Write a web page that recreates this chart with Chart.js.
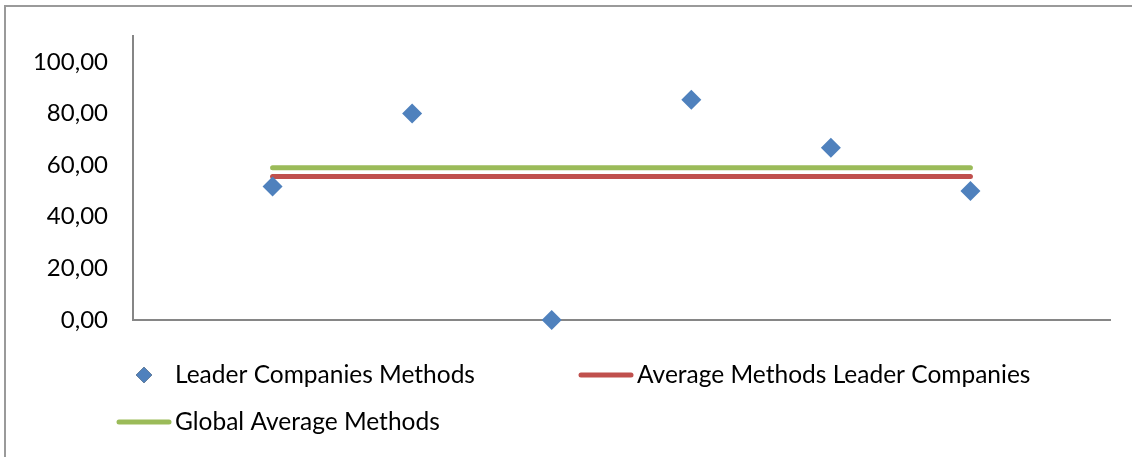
<!DOCTYPE html>
<html>
<head>
<meta charset="utf-8">
<script src="https://cdn.jsdelivr.net/npm/chart.js@4/dist/chart.umd.min.js"></script>
<style>
  html, body { margin: 0; padding: 0; background: #fff; }
  #wrap { width: 1132px; height: 457px; }
</style>
</head>
<body>
<div id="wrap"><canvas id="c" width="1132" height="457"></canvas></div>
<script>
// Position of each company along the horizontal axis
const companyPositions = [1, 2, 3, 4, 5, 6];
// Share of methods used by each leader company
const leaderMethods = [51.7, 80.0, 0.0, 85.3, 66.7, 50.0];
// Average over the leader companies
const leaderAverage = [55.6, 55.6, 55.6, 55.6, 55.6, 55.6];
// Average over all companies
const globalAverage = [59.0, 59.0, 59.0, 59.0, 59.0, 59.0];
// Labelled values on the vertical axis
const yTickValues = [0, 20, 40, 60, 80, 100];

const seriesNames = ['Leader Companies Methods', 'Average Methods Leader Companies', 'Global Average Methods'];
const BLUE = '#4F81BD', RED = '#C0504D', GREEN = '#9BBB59', AXIS = '#868686';
const FONT = 'Lato, "Open Sans", sans-serif';

const pts = (ys) => companyPositions.map((x, i) => ({ x, y: ys[i] }));

// Frame, top and left edges, as in the original worksheet chart
const framePlugin = {
  id: 'frame',
  beforeDraw(chart) {
    const ctx = chart.ctx;
    ctx.save();
    ctx.fillStyle = '#fff';
    ctx.fillRect(0, 0, chart.width, chart.height);
    ctx.strokeStyle = '#9a9a9a';
    ctx.lineWidth = 2;
    ctx.beginPath();
    ctx.moveTo(5, chart.height);
    ctx.lineTo(5, 6);
    ctx.lineTo(chart.width, 6);
    ctx.stroke();
    ctx.restore();
  }
};

// Legend laid out in two rows below the plot
const legendPlugin = {
  id: 'sheetLegend',
  afterDraw(chart) {
    const ctx = chart.ctx;
    const ds = chart.data.datasets;
    const items = [
      { i: 0, x: 144, y: 375, text: 175 },
      { i: 1, x: 606, y: 375, text: 637 },
      { i: 2, x: 144, y: 422, text: 175 }
    ];
    ctx.save();
    ctx.font = '24.5px ' + FONT;
    ctx.textBaseline = 'middle';
    ctx.fillStyle = '#000';
    items.forEach(it => {
      const d = ds[it.i];
      if (d.showLine) {
        ctx.strokeStyle = d.borderColor;
        ctx.lineWidth = 5;
        ctx.lineCap = 'round';
        ctx.beginPath();
        ctx.moveTo(it.x - 25, it.y);
        ctx.lineTo(it.x + 25, it.y);
        ctx.stroke();
      } else {
        Chart.helpers.drawPoint(ctx, { pointStyle: 'rectRot', radius: 8, borderWidth: 0 }, it.x, it.y);
        ctx.fillStyle = d.backgroundColor;
        ctx.fill();
        ctx.fillStyle = '#000';
      }
      ctx.fillText(d.label, it.text, it.y);
    });
    ctx.restore();
  }
};

new Chart(document.getElementById('c'), {
  type: 'scatter',
  data: {
    datasets: [
      {
        label: seriesNames[0],
        data: pts(leaderMethods),
        showLine: false,
        pointStyle: 'rectRot',
        pointRadius: 10,
        pointHoverRadius: 10,
        pointBorderWidth: 0,
        backgroundColor: BLUE,
        borderColor: BLUE,
        clip: false,
        order: 0
      },
      {
        label: seriesNames[1],
        data: pts(leaderAverage),
        showLine: true,
        pointRadius: 0,
        borderColor: RED,
        backgroundColor: RED,
        borderWidth: 5,
        borderCapStyle: 'round',
        order: 1
      },
      {
        label: seriesNames[2],
        data: pts(globalAverage),
        showLine: true,
        pointRadius: 0,
        borderColor: GREEN,
        backgroundColor: GREEN,
        borderWidth: 5,
        borderCapStyle: 'round',
        order: 2
      }
    ]
  },
  options: {
    responsive: false,
    animation: false,
    events: [],
    layout: { padding: { top: 36, right: 22, left: 0, bottom: 0 } },
    plugins: { legend: { display: false }, tooltip: { enabled: false } },
    scales: {
      x: {
        type: 'linear',
        min: 0,
        max: 7,
        grid: { display: false },
        ticks: { display: false },
        border: { display: true, color: AXIS, width: 2 },
        afterFit(scale) { scale.height = 137; }
      },
      y: {
        type: 'linear',
        min: 0,
        max: 110,
        grid: { display: false },
        border: { display: true, color: AXIS, width: 2 },
        afterBuildTicks(scale) { scale.ticks = yTickValues.map(v => ({ value: v })); },
        ticks: {
          color: '#000',
          padding: 17,
          font: { family: FONT, size: 24 },
          callback: (v) => v.toFixed(2).replace('.', ',')
        },
        afterFit(scale) { scale.width = 133; }
      }
    }
  },
  plugins: [framePlugin, legendPlugin]
});
</script>
</body>
</html>
